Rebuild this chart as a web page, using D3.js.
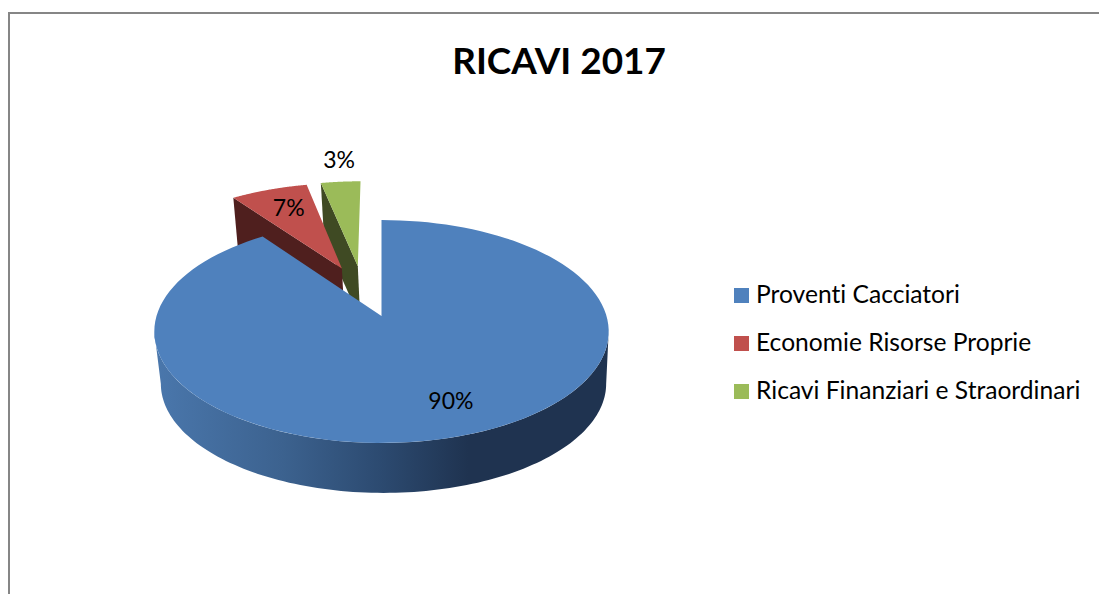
<!DOCTYPE html>
<html><head><meta charset="utf-8">
<script src="https://cdn.jsdelivr.net/npm/d3@7"></script>
<style>html,body{margin:0;padding:0;background:#fff;overflow:hidden}svg{display:block}text{font-family:Lato,"Open Sans",sans-serif;fill:#000;font-variant-ligatures:none}</style>
</head><body><svg id="c" width="1099" height="594"></svg>
<script>
const title = "RICAVI 2017";
const categories = ["Proventi Cacciatori", "Economie Risorse Proprie", "Ricavi Finanziari e Straordinari"];
const shares = [90, 6.6, 3.4];
const topColors = ["#4f81bd", "#c0504d", "#9bbb59"];
const wallColors = ["#1f3552", "#4f1f1e", "#3f4a23"];
const explodeDeg = [null, 338, 347];
const labelRadius = [0.75, 0.74, 1.3];
const labelShiftDeg = [-3.8, 1, 0.7];

const svg = d3.select("#c");
const toRad = d => d * Math.PI / 180;
const K = 0.139;               // perspective strength of the tilted disc
const xScale = d3.scaleLinear().domain([0, 1]).range([381.5, 606.5]);
const yScale = d3.scaleLinear().domain([0, 1]).range([316, 425.3]);

// plane coordinates (u right, v towards viewer) -> screen
function project(u, v, base) {
  const s = base ? 0.98 : 1, w = 1 - K * v;
  return [xScale(s * u / w) + (base ? 2 : 0), yScale(s * v / w) + (base ? 52.5 : 0)];
}
const pie = d3.pie().sort(null).value(d => d)(shares);
const slices = pie.map((p, i) => {
  const dir = explodeDeg[i] == null ? null : toRad(explodeDeg[i]);
  return {
    i, a0: p.startAngle, a1: p.endAngle,
    ou: dir == null ? 0 : 0.5 * Math.sin(dir),
    ov: dir == null ? 0 : -0.5 * Math.cos(dir)
  };
});
const rim = (s, a, base) => project(s.ou + Math.sin(a), s.ov - Math.cos(a), base);
const apex = (s, base) => project(s.ou, s.ov, base);
const line = d3.line();
const arcPts = (s, base, a0 = s.a0, a1 = s.a1) => d3.range(0, 121).map(k => rim(s, a0 + (a1 - a0) * k / 120, base));

// gradient for the blue outer wall
const grad = svg.append("defs").append("linearGradient").attr("id", "wall")
  .attr("gradientUnits", "userSpaceOnUse").attr("x1", 155).attr("x2", 609).attr("y1", 0).attr("y2", 0);
[[0, "#4a77ac"], [0.28, "#3c628f"], [0.5, "#2c4a70"], [0.69, "#1f3350"], [1, "#1f3350"]]
  .forEach(([o, c]) => grad.append("stop").attr("offset", o).attr("stop-color", c));

// frame
svg.append("path").attr("d", "M9 594V13H1099").attr("fill", "none").attr("stroke", "#868686").attr("stroke-width", 2);

// title
svg.append("text").attr("x", 559).attr("y", 74).attr("text-anchor", "middle")
  .attr("font-size", 36.9).attr("font-weight", 700).text(title);

// exploded slices: cut wall then top, green behind red
[slices[2], slices[1]].forEach(s => {
  const c = rim(s, s.a0, false), ap = apex(s, false), ab = apex(s, true), cb = rim(s, s.a0, true);
  svg.append("path").attr("d", line([c, ap, ab, cb]) + "Z").attr("fill", wallColors[s.i]);
  svg.append("path").attr("d", line([ap, ...arcPts(s, false)]) + "Z").attr("fill", topColors[s.i]);
});

// blue slice: wall of the front rim, then top
const b = slices[0];
const visibleStart = toRad(98), visibleEnd = toRad(262);
const topFront = arcPts(b, false, visibleStart, visibleEnd);
const baseFront = arcPts(b, true, visibleStart, visibleEnd).reverse();
svg.append("path").attr("d", line([...topFront, ...baseFront]) + "Z").attr("fill", "url(#wall)");
svg.append("path").attr("d", line([apex(b, false), ...arcPts(b, false)]) + "Z").attr("fill", topColors[0]);

// value labels
const total = d3.sum(shares), fmt = d3.format(".0%");
slices.forEach(s => {
  const m = (s.a0 + s.a1) / 2 + toRad(labelShiftDeg[s.i]), r = labelRadius[s.i];
  const [x, y] = project(s.ou + r * Math.sin(m), s.ov - r * Math.cos(m), false);
  svg.append("text").attr("x", x).attr("y", y).attr("dy", "0.36em").attr("text-anchor", "middle")
    .attr("font-size", 23).text(fmt(shares[s.i] / total));
});

// legend
const ly = d3.scalePoint().domain(categories).range([295.5, 391.5]);
categories.forEach((c, i) => {
  svg.append("rect").attr("x", 734).attr("y", ly(c) - 7.5).attr("width", 15).attr("height", 15).attr("fill", topColors[i]);
  svg.append("text").attr("x", 756).attr("y", ly(c) + 7.5).attr("font-size", 24.6).text(c);
});
</script></body></html>
